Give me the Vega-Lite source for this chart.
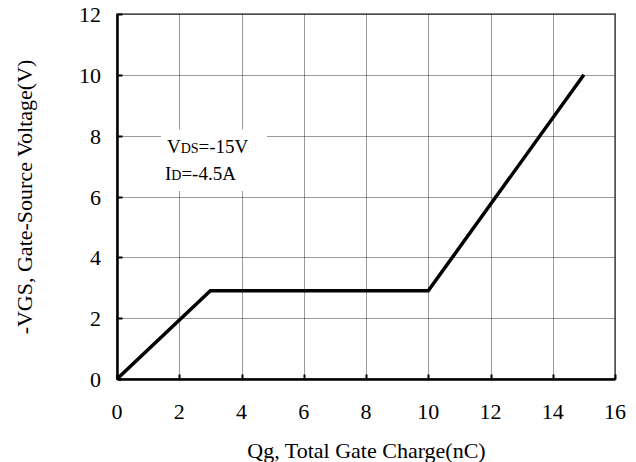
{
  "$schema": "https://vega.github.io/schema/vega-lite/v6.json",
  "width": 498,
  "height": 365,
  "autosize": {"type": "none"},
  "padding": {"left": 117, "top": 14, "right": 21, "bottom": 83},
  "background": "white",
  "config": {
    "font": "Liberation Serif",
    "view": {"stroke": "#808080", "strokeWidth": 2},
    "axis": {
      "titleFont": "Liberation Serif",
      "titleFontSize": 22,
      "titleFontWeight": "normal",
      "titleColor": "black",
      "domainColor": "black",
      "domainWidth": 2.5,
      "tickColor": "black",
      "tickWidth": 2,
      "gridColor": "#111111",
      "gridDash": [1, 1],
      "gridWidth": 1,
      "gridOpacity": 0.85
    }
  },
  "datasets": {
    "curve": [
      {"q": 0, "v": 0},
      {"q": 3, "v": 2.9},
      {"q": 10, "v": 2.9},
      {"q": 15, "v": 10}
    ],
    "xticks": [
      {"q": 0}, {"q": 2}, {"q": 4}, {"q": 6}, {"q": 8},
      {"q": 10}, {"q": 12}, {"q": 14}, {"q": 16}
    ],
    "yticks": [
      {"v": 0}, {"v": 2}, {"v": 4}, {"v": 6}, {"v": 8}, {"v": 10}, {"v": 12}
    ],
    "box": [{"x1": 1.41, "x2": 4.82, "y1": 6.18, "y2": 8.2}],
    "notes": [
      {"x": 1.606, "y": 7.43, "t": "V", "part": "main"},
      {"x": 2.046, "y": 7.43, "t": "DS", "part": "sub"},
      {"x": 2.621, "y": 7.43, "t": "=-15V", "part": "main"},
      {"x": 1.542, "y": 6.54, "t": "I", "part": "main"},
      {"x": 1.745, "y": 6.54, "t": "D", "part": "sub"},
      {"x": 2.069, "y": 6.54, "t": "=-4.5A", "part": "main"}
    ]
  },
  "layer": [
    {
      "data": {"name": "curve"},
      "mark": {"type": "line", "color": "black", "strokeWidth": 3.5, "strokeJoin": "miter"},
      "encoding": {
        "x": {
          "field": "q", "type": "quantitative",
          "scale": {"domain": [0, 16], "nice": false, "zero": false},
          "axis": {
            "title": "Qg, Total Gate Charge(nC)",
            "values": [0, 1, 2, 3, 4, 5, 6, 7, 8, 9, 10, 11, 12, 13, 14, 15, 16],
            "labels": false,
            "tickOpacity": {"expr": "datum.value % 2 ? 0 : 1"},
            "tickSize": -5,
            "titlePadding": 60,
            "grid": true
          }
        },
        "y": {
          "field": "v", "type": "quantitative",
          "scale": {"domain": [0, 12], "nice": false, "zero": false},
          "axis": {
            "title": "-VGS, Gate-Source Voltage(V)",
            "values": [0, 2, 4, 6, 8, 10, 12],
            "labels": false,
            "tickSize": -5,
            "titlePadding": 80,
            "grid": true
          }
        }
      }
    },
    {
      "data": {"name": "xticks"},
      "mark": {"type": "text", "align": "center", "baseline": "middle", "dy": 33, "fontSize": 22, "font": "Liberation Serif", "color": "black"},
      "encoding": {
        "x": {"field": "q", "type": "quantitative"},
        "y": {"datum": 0, "type": "quantitative"},
        "text": {"field": "q", "type": "quantitative"}
      }
    },
    {
      "data": {"name": "yticks"},
      "mark": {"type": "text", "align": "right", "baseline": "middle", "dx": -16, "dy": 1, "fontSize": 22, "font": "Liberation Serif", "color": "black"},
      "encoding": {
        "x": {"datum": 0, "type": "quantitative"},
        "y": {"field": "v", "type": "quantitative"},
        "text": {"field": "v", "type": "quantitative"}
      }
    },
    {
      "data": {"name": "box"},
      "mark": {"type": "rect", "color": "white"},
      "encoding": {
        "x": {"field": "x1", "type": "quantitative"},
        "x2": {"field": "x2"},
        "y": {"field": "y1", "type": "quantitative"},
        "y2": {"field": "y2"}
      }
    },
    {
      "data": {"name": "notes"},
      "transform": [{"filter": "datum.part === 'main'"}],
      "mark": {"type": "text", "align": "left", "baseline": "alphabetic", "fontSize": 19, "font": "Liberation Serif", "color": "black"},
      "encoding": {
        "x": {"field": "x", "type": "quantitative"},
        "y": {"field": "y", "type": "quantitative"},
        "text": {"field": "t"}
      }
    },
    {
      "data": {"name": "notes"},
      "transform": [{"filter": "datum.part === 'sub'"}],
      "mark": {"type": "text", "align": "left", "baseline": "alphabetic", "fontSize": 14, "font": "Liberation Serif", "color": "black"},
      "encoding": {
        "x": {"field": "x", "type": "quantitative"},
        "y": {"field": "y", "type": "quantitative"},
        "text": {"field": "t"}
      }
    }
  ]
}
